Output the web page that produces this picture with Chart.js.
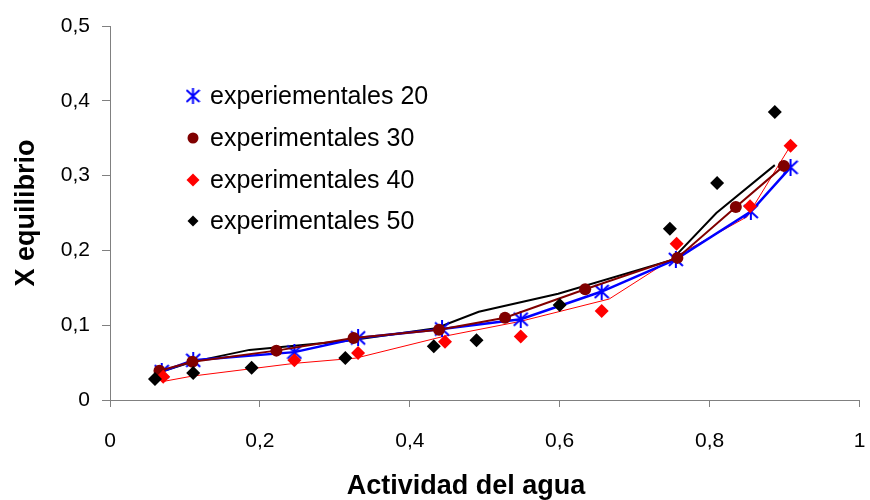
<!DOCTYPE html>
<html>
<head>
<meta charset="utf-8">
<script src="https://cdn.jsdelivr.net/npm/chart.js@4/dist/chart.umd.min.js"></script>
<style>
  html, body { margin: 0; padding: 0; background: #fff; }
  #wrap { width: 870px; height: 500px; position: relative; }
</style>
</head>
<body>
<div id="wrap"><canvas id="c"></canvas></div>
<script>
// Water activity (aw) and equilibrium moisture for each temperature series
const aw20 = [0.069, 0.111, 0.246, 0.331, 0.443, 0.548, 0.656, 0.755, 0.855, 0.908];
const xe20 = [0.038, 0.053, 0.064, 0.083, 0.095, 0.108, 0.145, 0.188, 0.252, 0.311];

const aw30 = [0.066, 0.110, 0.222, 0.325, 0.439, 0.527, 0.634, 0.757, 0.835, 0.899];
const xe30 = [0.039, 0.051, 0.066, 0.083, 0.094, 0.110, 0.148, 0.190, 0.258, 0.313];

const aw40 = [0.071, 0.246, 0.331, 0.447, 0.548, 0.656, 0.756, 0.854, 0.908];
const xe40 = [0.031, 0.053, 0.063, 0.078, 0.085, 0.119, 0.209, 0.259, 0.340];

const aw50 = [0.060, 0.111, 0.189, 0.314, 0.432, 0.489, 0.600, 0.747, 0.810, 0.887];
const xe50 = [0.028, 0.036, 0.043, 0.056, 0.072, 0.080, 0.127, 0.229, 0.290, 0.385];

// Fitted curves for 40 and 50
const awFit40 = [0.072, 0.110, 0.246, 0.328, 0.445, 0.547, 0.666, 0.755, 0.850, 0.908];
const xeFit40 = [0.025, 0.032, 0.049, 0.056, 0.085, 0.105, 0.135, 0.192, 0.245, 0.340];

const awFit50 = [0.066, 0.110, 0.186, 0.314, 0.435, 0.492, 0.598, 0.749, 0.809, 0.887];
const xeFit50 = [0.037, 0.051, 0.067, 0.079, 0.096, 0.118, 0.142, 0.187, 0.250, 0.314];

const seriesLabels = ['experiementales 20', 'experimentales 30', 'experimentales 40', 'experimentales 50'];
const xTicks = [0, 0.2, 0.4, 0.6, 0.8, 1];
const yTicks = [0, 0.1, 0.2, 0.3, 0.4, 0.5];
const xTitle = 'Actividad del agua';
const yTitle = 'X equilibrio';

const FONT = "Arial, 'Liberation Sans', sans-serif";
Chart.defaults.font.family = FONT;
Chart.defaults.color = '#000';

const pts = (xs, ys) => xs.map((x, i) => ({ x: x, y: ys[i] }));
const fmt = v => String(Math.round(v * 10) / 10).replace('.', ',');

// Asterisk marker: an X crossed by a vertical stroke
function asterisk(w, h, lw, color) {
  const c = document.createElement('canvas');
  c.width = w; c.height = h;
  const g = c.getContext('2d');
  g.strokeStyle = color; g.lineWidth = lw; g.lineCap = 'butt';
  g.beginPath();
  g.moveTo(1, 2); g.lineTo(w - 1, h - 2);
  g.moveTo(w - 1, 2); g.lineTo(1, h - 2);
  g.moveTo(w / 2, 0); g.lineTo(w / 2, h);
  g.stroke();
  return c;
}
const star = asterisk(16, 17, 2, '#0000ff');
const starSmall = asterisk(15, 16, 2, '#0000ff');

// Legend inside the plot area, plus the horizontal axis title
const innerLegend = {
  id: 'innerLegend',
  afterDraw(chart) {
    const ctx = chart.ctx;
    const rows = [96, 138, 180, 221];
    const mx = 193, tx = 210;
    ctx.save();
    ctx.font = '25px ' + FONT;
    ctx.fillStyle = '#000';
    ctx.textBaseline = 'middle';
    rows.forEach((y, i) => {
      ctx.fillText(seriesLabels[i], tx, y + 1);
      ctx.beginPath();
      if (i === 0) {
        ctx.drawImage(starSmall, mx - 7.5, y - 8);
      } else if (i === 1) {
        ctx.fillStyle = '#800000';
        ctx.arc(mx, y, 5.5, 0, Math.PI * 2);
        ctx.fill();
      } else {
        const r = i === 2 ? 6.5 : 5.5;
        ctx.fillStyle = i === 2 ? '#ff0000' : '#000';
        ctx.moveTo(mx - r, y); ctx.lineTo(mx, y - r); ctx.lineTo(mx + r, y); ctx.lineTo(mx, y + r);
        ctx.closePath();
        ctx.fill();
      }
      ctx.fillStyle = '#000';
    });
    ctx.font = 'bold 27px ' + FONT;
    ctx.textAlign = 'center';
    ctx.fillText(xTitle, 466, 487);
    ctx.restore();
  }
};

new Chart(document.getElementById('c'), {
  type: 'scatter',
  data: {
    datasets: [
      { label: 'ajuste 50', data: pts(awFit50, xeFit50), showLine: true, borderColor: '#000', borderWidth: 2, pointRadius: 0, order: 6 },
      { label: 'ajuste 40', data: pts(awFit40, xeFit40), showLine: true, borderColor: '#ff0000', borderWidth: 1, pointRadius: 0, order: 5 },
      { label: seriesLabels[0], data: pts(aw20, xe20), showLine: true, borderColor: '#0000ff', borderWidth: 2.5,
        pointStyle: star, pointRadius: 8, order: 4 },
      { label: seriesLabels[1], data: pts(aw30, xe30), showLine: true, borderColor: '#800000', borderWidth: 2,
        pointStyle: 'circle', pointRadius: 6, backgroundColor: '#800000', pointBorderWidth: 0, order: 3 },
      { label: seriesLabels[2], data: pts(aw40, xe40), showLine: false, backgroundColor: '#ff0000', borderColor: '#ff0000',
        pointStyle: 'rectRot', pointRadius: 7, pointBorderWidth: 0, order: 2 },
      { label: seriesLabels[3], data: pts(aw50, xe50), showLine: false, backgroundColor: '#000', borderColor: '#000',
        pointStyle: 'rectRot', pointRadius: 7, pointBorderWidth: 0, order: 1 }
    ]
  },
  options: {
    responsive: true,
    maintainAspectRatio: false,
    animation: false,
    layout: { padding: { top: 26, right: 4, left: 0, bottom: 0 } },
    plugins: { legend: { display: false }, tooltip: { enabled: false } },
    elements: { line: { tension: 0 } },
    scales: {
      x: {
        type: 'linear', min: 0, max: 1,
        afterBuildTicks: s => { s.ticks = xTicks.map(v => ({ value: v })); },
        afterFit: s => { s.height = 100; s.paddingLeft = 0; s.paddingRight = 0; },
        ticks: { callback: v => fmt(v), font: { size: 21 }, padding: 22, maxRotation: 0 },
        grid: { drawOnChartArea: false, drawTicks: true, tickLength: 7, color: '#808080' },
        border: { color: '#808080', width: 1 },
        title: { display: false }
      },
      y: {
        type: 'linear', min: 0, max: 0.5,
        afterBuildTicks: s => { s.ticks = yTicks.map(v => ({ value: v })); },
        afterFit: s => { s.width = 110; },
        ticks: { callback: v => fmt(v), font: { size: 21 }, padding: 12 },
        grid: { drawOnChartArea: false, drawTicks: true, tickLength: 8, color: '#808080' },
        border: { color: '#808080', width: 1 },
        title: { display: true, text: yTitle, font: { size: 27, weight: 'bold' }, padding: { top: 10, bottom: 0 } }
      }
    }
  },
  plugins: [innerLegend]
});
</script>
</body>
</html>
